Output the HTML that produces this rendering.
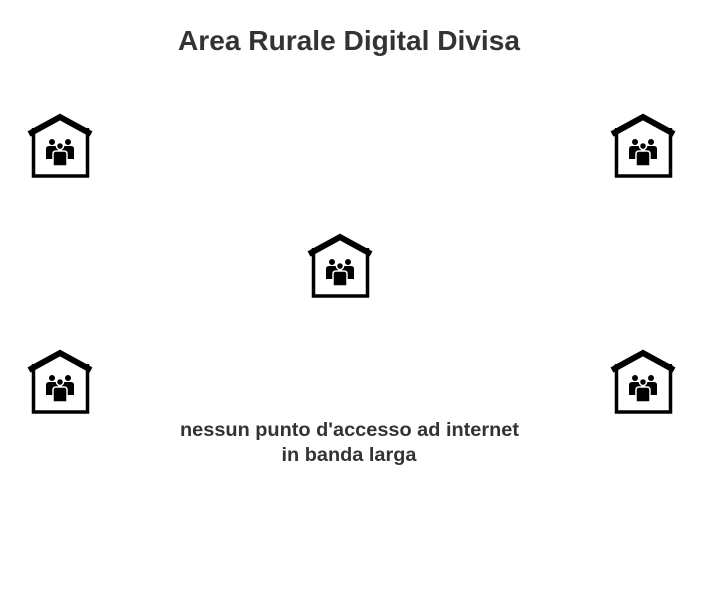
<!DOCTYPE html>
<html><head><style>
body{margin:0;background:#fff;width:703px;height:600px;overflow:hidden;font-family:"Liberation Sans",sans-serif}
</style></head><body>
<svg width="703" height="600" viewBox="0 0 703 600">
<defs>
<g id="h">
<polyline points="1,20 32,3 63,20" fill="none" stroke="#000" stroke-width="6" stroke-linecap="butt" stroke-linejoin="miter"/>
<path d="M5.5,14 V62 H59.5 V14" fill="none" stroke="#000" stroke-width="3.5"/>
<circle cx="24" cy="28" r="3"/><circle cx="40" cy="28" r="3"/>
<path d="M18,45 V35 Q18,32 21,32 H27 Q30,32 30,35 V45Z"/>
<path d="M34,45 V35 Q34,32 37,32 H43 Q46,32 46,35 V45Z"/>
<circle cx="32" cy="32" r="3.5" stroke="#fff" stroke-width="1.5"/>
<path d="M25,52 V40 Q25,37 28,37 H36 Q39,37 39,40 V52Z" stroke="#fff" stroke-width="1.5"/>
</g>
</defs>
<text x="349" y="50" text-anchor="middle" font-size="27.5" font-weight="bold" fill="#333" textLength="342" lengthAdjust="spacingAndGlyphs">Area Rurale Digital Divisa</text>
<use href="#h" x="28" y="114"/>
<use href="#h" x="611" y="114"/>
<use href="#h" x="308" y="234"/>
<use href="#h" x="28" y="350"/>
<use href="#h" x="611" y="350"/>
<text x="349.5" y="436" text-anchor="middle" font-size="19.5" font-weight="bold" fill="#333" textLength="339" lengthAdjust="spacingAndGlyphs">nessun punto d'accesso ad internet</text>
<text x="349" y="461" text-anchor="middle" font-size="19.5" font-weight="bold" fill="#333" textLength="135" lengthAdjust="spacingAndGlyphs">in banda larga</text>
</svg>
</body></html>
